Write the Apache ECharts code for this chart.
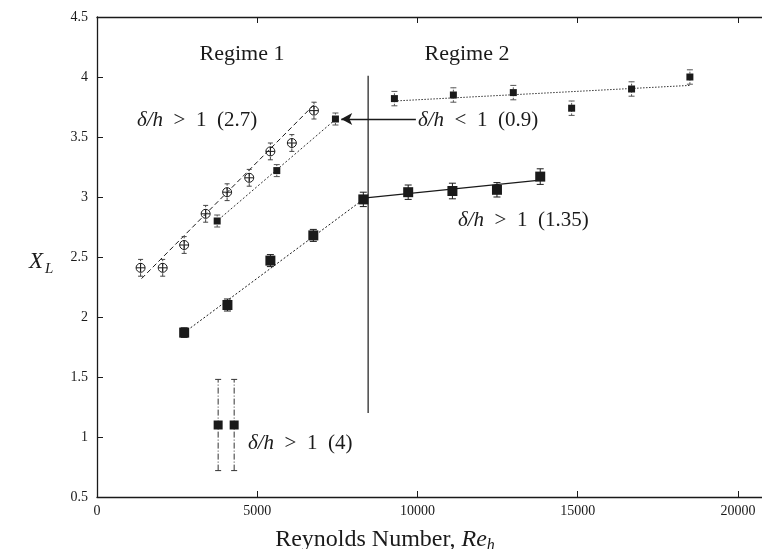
<!DOCTYPE html>
<html>
<head>
<meta charset="utf-8">
<script src="https://cdn.jsdelivr.net/npm/echarts@6/dist/echarts.min.js"></script>
<style>
  html, body { margin: 0; padding: 0; background: #fff; }
  #chart { width: 762px; height: 549px; }
</style>
</head>
<body>
<div id="chart"></div>
<script>
// Regime 1, open circle-plus markers, delta/h > 1 (2.7)
const reA = [1360, 2050, 2720, 3390, 4060, 4750, 5410, 6080, 6770];
const xlA = [2.41, 2.41, 2.60, 2.86, 3.04, 3.16, 3.38, 3.45, 3.72];
const errA = [0.07, 0.07, 0.07, 0.07, 0.07, 0.07, 0.07, 0.07, 0.07];

// small squares, delta/h < 1 (0.9), regime 1 and regime 2
const reB = [3750, 5610, 7440, 9280, 11120, 12990, 14810, 16680, 18500];
const xlB = [2.80, 3.22, 3.65, 3.82, 3.85, 3.87, 3.74, 3.90, 4.00];
const errB = [0.05, 0.05, 0.05, 0.06, 0.06, 0.06, 0.06, 0.06, 0.06];

// big squares, delta/h > 1 (1.35)
const reC = [2720, 4070, 5410, 6750, 8310, 9710, 11090, 12480, 13830];
const xlC = [1.87, 2.10, 2.47, 2.68, 2.98, 3.04, 3.05, 3.06, 3.17];
const errC = [0.04, 0.05, 0.05, 0.05, 0.06, 0.06, 0.065, 0.06, 0.065];

// delta/h > 1 (4)
const reD = [3780, 4280];
const xlD = [1.10, 1.10];
const errD = [0.38, 0.38];

// fitted lines [x0, x1], [y0, y1]
const fitA = [[1390, 6850], [2.32, 3.79]];
const fitB1 = [[3700, 7500], [2.79, 3.66]];
const fitB2 = [[9280, 18500], [3.80, 3.93]];
const fitC1 = [[2720, 8310], [1.87, 2.98]];
const fitC2 = [[8310, 13830], [2.99, 3.14]];
const regimeSplit = [[8460, 8460], [1.20, 4.01]];
const arrowLine = [[9950, 7620], [3.65, 3.65]];

const xTicks = [0, 5000, 10000, 15000, 20000];

const ink = '#1a1a1a';
const serif = '"Liberation Serif", "DejaVu Serif", serif';
const sp = '\u2002';

function pairs(xy) {
  return xy[0].map((x, i) => [x, xy[1][i]]);
}

function fitSeries(xy, type, width, color) {
  return {
    type: 'line',
    data: pairs(xy),
    symbol: 'none',
    silent: true,
    z: 2,
    lineStyle: { color: color || ink, width: width || 1, type: type }
  };
}

// error bars via custom series
function errSeries(xs, ys, errs, dash, color, cap) {
  return {
    type: 'custom',
    silent: true,
    z: 3,
    data: xs.map((x, i) => [x, ys[i] - errs[i], ys[i] + errs[i]]),
    encode: { x: 0, y: [1, 2] },
    renderItem: function (params, api) {
      const lo = api.coord([api.value(0), api.value(1)]);
      const hi = api.coord([api.value(0), api.value(2)]);
      const st = { stroke: color, lineWidth: 1, lineDash: dash, fill: null };
      const capSt = { stroke: color, lineWidth: 1, fill: null };
      return {
        type: 'group',
        children: [
          { type: 'line', shape: { x1: lo[0], y1: lo[1], x2: hi[0], y2: hi[1] }, style: st },
          { type: 'line', shape: { x1: lo[0] - cap, y1: lo[1], x2: lo[0] + cap, y2: lo[1] }, style: capSt },
          { type: 'line', shape: { x1: hi[0] - cap, y1: hi[1], x2: hi[0] + cap, y2: hi[1] }, style: capSt }
        ]
      };
    }
  };
}

function markSeries(xs, ys, symbol, size, style) {
  return {
    type: 'scatter',
    data: xs.map((x, i) => [x, ys[i]]),
    symbol: symbol,
    symbolSize: size,
    z: 4,
    itemStyle: Object.assign({ opacity: 1 }, style)
  };
}

function deltaLabel(x, y, rel, tail) {
  return {
    type: 'text', x: x, y: y,
    style: {
      text: '{m|δ/h}' + sp + rel + sp + '1' + sp + tail,
      fontFamily: serif, fontSize: 21, fill: ink, verticalAlign: 'middle',
      rich: { m: { fontFamily: serif, fontSize: 21, fontStyle: 'italic', fill: ink } }
    }
  };
}

const circlePlus = 'path://M0,5A5,5 0 1,1 10,5A5,5 0 1,1 0,5ZM5,0L5,10M0,5L10,5';

const chart = echarts.init(document.getElementById('chart'));

const axisCommon = {
  type: 'value',
  min: 0,
  max: 20750,
  interval: 5000,
  axisLine: { show: true, lineStyle: { color: ink, width: 1.3 } },
  axisTick: { show: true, inside: true, length: 6, lineStyle: { color: ink } },
  splitLine: { show: false }
};

chart.setOption({
  animation: false,
  backgroundColor: '#fff',
  grid: { left: 97, right: 0, top: 17, bottom: 52 },
  xAxis: [
    Object.assign({}, axisCommon, {
      position: 'bottom',
      axisLabel: {
        showMaxLabel: false,
        margin: 7,
        color: ink,
        fontFamily: serif,
        fontSize: 14,
        formatter: v => (xTicks.indexOf(v) >= 0 ? String(v) : '')
      }
    }),
    Object.assign({}, axisCommon, {
      position: 'top',
      axisLabel: { show: false }
    })
  ],
  yAxis: {
    type: 'value',
    min: 0.5,
    max: 4.5,
    interval: 0.5,
    axisLine: { show: true, lineStyle: { color: ink, width: 1.3 } },
    axisTick: { show: true, inside: true, length: 6, lineStyle: { color: ink } },
    splitLine: { show: false },
    axisLabel: { margin: 9, color: ink, fontFamily: serif, fontSize: 14 }
  },
  series: [
    fitSeries(fitA, [5, 3], 1),
    fitSeries(fitB1, [2, 2], 1, '#333'),
    fitSeries(fitB2, [1.5, 1.5], 1, '#333'),
    fitSeries(fitC1, [2, 2], 1),
    fitSeries(fitC2, 'solid', 1.2),
    fitSeries(regimeSplit, 'solid', 1.2),
    {
      type: 'line',
      data: [],
      silent: true,
      markLine: {
        silent: true,
        symbol: ['none', 'arrow'],
        symbolSize: [9, 11],
        label: { show: false },
        lineStyle: { color: ink, width: 1.3, type: 'solid' },
        data: [[{ coord: pairs(arrowLine)[0] }, { coord: pairs(arrowLine)[1] }]]
      }
    },
    errSeries(reA, xlA, errA, [3, 2], '#444', 2.5),
    errSeries(reB, xlB, errB, [2, 1.5], '#555', 3),
    errSeries(reC, xlC, errC, 'solid', ink, 3.5),
    errSeries(reD, xlD, errD, [6, 2, 1, 2], '#333', 3),
    markSeries(reA, xlA, circlePlus, 9, { color: 'transparent', borderColor: ink, borderWidth: 1 }),
    markSeries(reB, xlB, 'rect', 7, { color: ink }),
    markSeries(reC, xlC, 'rect', 10, { color: ink }),
    markSeries(reD, xlD, 'rect', 9, { color: ink })
  ],
  graphic: [
    { type: 'text', x: 242, y: 54, style: { text: 'Regime 1', fontFamily: serif, fontSize: 22, fill: ink, align: 'center', verticalAlign: 'middle' } },
    { type: 'text', x: 467, y: 54, style: { text: 'Regime 2', fontFamily: serif, fontSize: 22, fill: ink, align: 'center', verticalAlign: 'middle' } },
    deltaLabel(137, 120, '>', '(2.7)'),
    deltaLabel(418, 120, '<', '(0.9)'),
    deltaLabel(458, 220, '>', '(1.35)'),
    deltaLabel(248, 443, '>', '(4)'),
    { type: 'text', x: 29, y: 262, style: { text: 'X', fontFamily: serif, fontSize: 23, fontStyle: 'italic', fill: ink, verticalAlign: 'middle' } },
    { type: 'text', x: 45, y: 269, style: { text: 'L', fontFamily: serif, fontSize: 15, fontStyle: 'italic', fill: ink, verticalAlign: 'middle' } },
    {
      type: 'text', x: 385, y: 540,
      style: {
        text: 'Reynolds Number, {i|Re}{s|h}', fontFamily: serif, fontSize: 24, fill: ink, align: 'center', verticalAlign: 'middle',
        rich: {
          i: { fontFamily: serif, fontSize: 24, fontStyle: 'italic', fill: ink },
          s: { fontFamily: serif, fontSize: 16, fontStyle: 'italic', fill: ink, padding: [12, 0, 0, 0] }
        }
      }
    }
  ]
});
</script>
</body>
</html>
